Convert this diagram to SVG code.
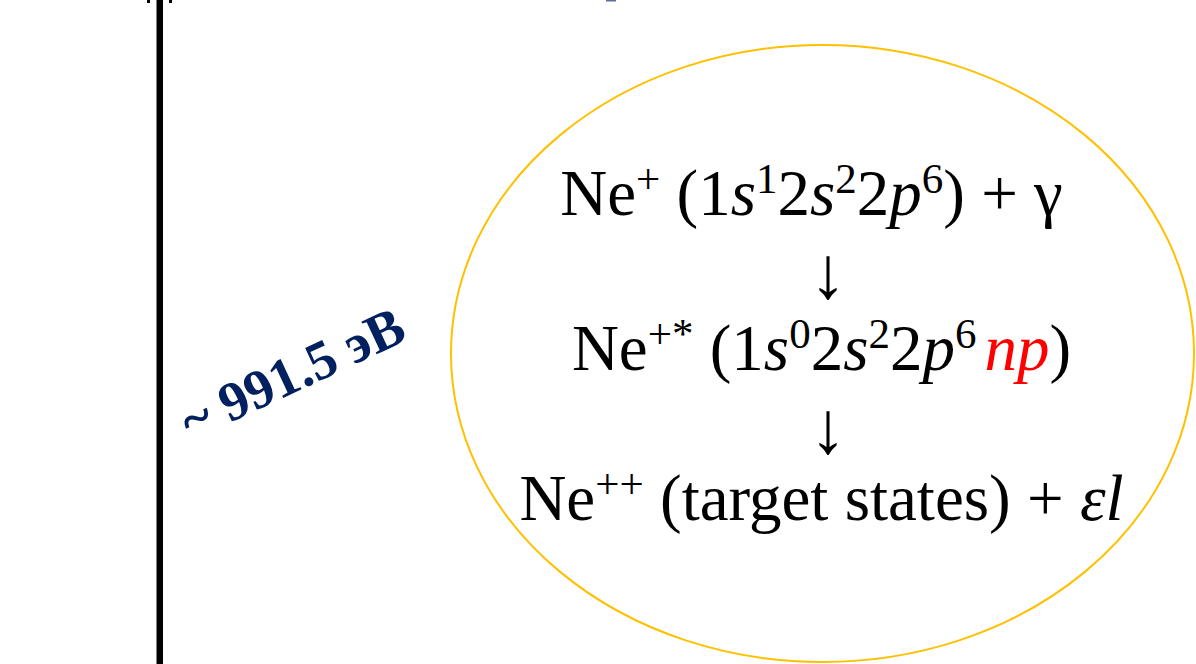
<svg xmlns="http://www.w3.org/2000/svg" width="1196" height="664" viewBox="0 0 1196 664">
<style>
.t{font-family:"Liberation Serif","Times New Roman",serif;font-size:65px;fill:#000}
.i{font-style:italic}
.s{font-size:43px}
.ar{font-family:"Liberation Serif","Times New Roman",serif;font-size:74px;fill:#000}
.lbl{font-family:"Liberation Serif","Times New Roman",serif;font-size:55px;font-weight:bold;fill:#002060}
</style>
<rect width="1196" height="664" fill="#fff"/>
<g id="axis">
<rect x="156.5" y="0" width="6.5" height="664" fill="#000"/>
<rect x="147" y="0" width="3" height="3" fill="#000"/>
<rect x="169" y="0" width="3" height="3" fill="#000"/>
<rect x="606" y="0" width="10" height="1.5" fill="#5a6fa0"/>
</g>
<g id="energy-label">
<text class="lbl" x="0" y="0" text-anchor="middle" transform="translate(300,390) rotate(-25)">~ 991.5 эВ</text>
</g>
<g id="process">
<ellipse cx="822.5" cy="353.5" rx="371.5" ry="308.5" fill="none" stroke="#FFC000" stroke-width="2"/>
<text class="t" x="811.5" y="215" text-anchor="middle">Ne<tspan class="s" dy="-22">+</tspan><tspan dy="22"> (1</tspan><tspan class="i">s</tspan><tspan class="s" dy="-22">1</tspan><tspan dy="22">2</tspan><tspan class="i">s</tspan><tspan class="s" dy="-22">2</tspan><tspan dy="22">2</tspan><tspan class="i">p</tspan><tspan class="s" dy="-22">6</tspan><tspan dy="22">) + γ</tspan></text>
<text class="ar" x="828" y="298" text-anchor="middle">↓</text>
<text class="t" x="821.5" y="370" text-anchor="middle">Ne<tspan class="s" dy="-22">+*</tspan><tspan dy="22"> (1</tspan><tspan class="i">s</tspan><tspan class="s" dy="-22">0</tspan><tspan dy="22">2</tspan><tspan class="i">s</tspan><tspan class="s" dy="-22">2</tspan><tspan dy="22">2</tspan><tspan class="i">p</tspan><tspan class="s" dy="-22">6</tspan><tspan class="i" fill="#FF0000" dy="22" dx="8">np</tspan>)</text>
<text class="ar" x="828" y="453" text-anchor="middle">↓</text>
<text class="t" x="821.5" y="520" text-anchor="middle">Ne<tspan class="s" dy="-22">++</tspan><tspan dy="22"> (target states) + </tspan><tspan class="i">εl</tspan></text>
</g>
</svg>
